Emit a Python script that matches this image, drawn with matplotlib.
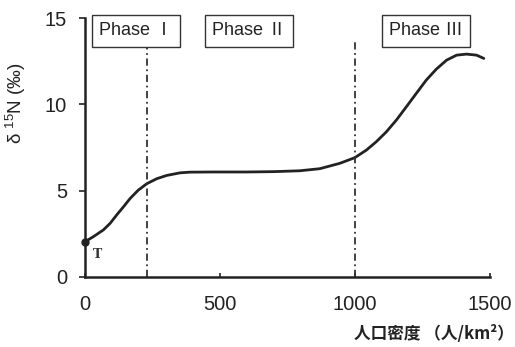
import matplotlib
matplotlib.use("Agg")
from matplotlib import pyplot as plt

plt.rcParams['font.family'] = ['Liberation Sans', 'Noto Sans CJK JP', 'DejaVu Sans']
plt.rcParams['mathtext.fontset'] = 'custom'
plt.rcParams['mathtext.rm'] = 'Liberation Sans'

# curve (population density vs delta 15N)
density = [0, 31, 68, 93, 117, 142, 167, 197, 229, 266, 303, 352, 389, 474,
           600, 700, 796, 870, 944, 1000, 1043, 1080, 1117, 1154, 1191, 1228,
           1265, 1302, 1340, 1377, 1414, 1451, 1478]
d15n = [2.04, 2.33, 2.72, 3.1, 3.58, 4.05, 4.54, 5.02, 5.4, 5.69, 5.88, 6.03,
        6.07, 6.08, 6.08, 6.1, 6.15, 6.27, 6.58, 6.91, 7.35, 7.84, 8.41, 9.09,
        9.86, 10.64, 11.41, 12.04, 12.56, 12.85, 12.91, 12.85, 12.66]

phase_bounds = [230, 1000]
phase_labels = ['Phase Ⅰ', 'Phase Ⅱ', 'Phase Ⅲ']
phase_x = [189, 607, 1263]

xticks = [0, 500, 1000, 1500]
yticks = [0, 5, 10, 15]

fig = plt.figure(figsize=(5.15, 3.47), dpi=100)
ax = fig.add_axes([0.165, 0.202, 0.786, 0.746])

ax.plot(density, d15n, color='#222222', lw=2.0, solid_capstyle='round',
        solid_joinstyle='round')
ax.plot(density[0], d15n[0], 'o', color='#222222', ms=5, clip_on=False)
ax.text(28, 1.1, 'T', fontsize=9, family='DejaVu Serif', fontweight='bold',
        color='#333333')

for b in phase_bounds:
    ax.plot([b, b], [0, 13.8], color='#333333', lw=1.3, ls=(0, (4, 2, 1, 2)))

for lab, px in zip(phase_labels, phase_x):
    ax.text(px, 14.25, lab, fontsize=13, ha='center', va='center', color='#222222',
            bbox=dict(boxstyle='square,pad=0.4', fc='white', ec='#333333', lw=1.0),
            clip_on=False)

ax.set_xlim(0, 1500)
ax.set_ylim(0, 15)
ax.set_xticks(xticks)
ax.set_yticks(yticks)
ax.tick_params(axis='x', direction='in', length=3, width=1.2, pad=13,
               labelsize=14.5, colors='#222222')
ax.tick_params(axis='y', direction='out', length=4, width=1.2, pad=9,
               labelsize=14.5, colors='#222222')
for s in ['top', 'right']:
    ax.spines[s].set_visible(False)
for s in ['left', 'bottom']:
    ax.spines[s].set_linewidth(1.8)
    ax.spines[s].set_color('#222222')

ax.set_ylabel(r'δ $^{15}$N (‰)', fontsize=13.5, color='#222222')
ax.yaxis.set_label_coords(-0.14, 0.67)

fig.text(434 / 515, 1 - 334 / 347, '人口密度 （人/km²）', fontsize=12,
         fontweight='bold', ha='center', va='center', color='#222222',
         family=['Noto Sans CJK JP', 'DejaVu Sans'])

fig.savefig('out.png', dpi=100)
